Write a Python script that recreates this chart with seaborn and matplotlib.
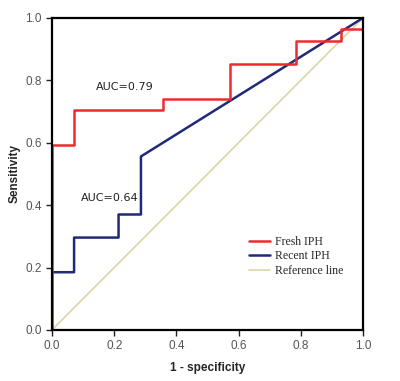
import matplotlib
matplotlib.use('Agg')
import matplotlib.pyplot as plt
import pandas as pd
import seaborn as sns

# ROC vertices (1 - specificity, sensitivity)
fresh_fpr = [0.0, 0.0, 0.071, 0.071, 0.357, 0.357, 0.571, 0.571, 0.786, 0.786, 0.929, 0.929, 1.0, 1.0]
fresh_tpr = [0.0, 0.593, 0.593, 0.704, 0.704, 0.741, 0.741, 0.852, 0.852, 0.926, 0.926, 0.963, 0.963, 1.0]
recent_fpr = [0.0, 0.0, 0.071, 0.071, 0.214, 0.214, 0.286, 0.286, 1.0]
recent_tpr = [0.0, 0.185, 0.185, 0.296, 0.296, 0.370, 0.370, 0.556, 1.0]
ref_fpr = [0.0, 1.0]
ref_tpr = [0.0, 1.0]
auc_labels = ['AUC=0.79', 'AUC=0.64']
ticks = [0.0, 0.2, 0.4, 0.6, 0.8, 1.0]

sns.set_style('white')
plt.rcParams['font.family'] = ['Liberation Sans', 'DejaVu Sans']

fig = plt.figure(figsize=(4.0, 3.81), dpi=100)
ax = fig.add_axes([0.13, 0.134, 0.7775, 0.819])

df = pd.concat([
    pd.DataFrame({'x': fresh_fpr, 'y': fresh_tpr, 'curve': 'Fresh IPH'}),
    pd.DataFrame({'x': recent_fpr, 'y': recent_tpr, 'curve': 'Recent IPH'}),
    pd.DataFrame({'x': ref_fpr, 'y': ref_tpr, 'curve': 'Reference line'}),
])
palette = {'Fresh IPH': '#ee2a2e', 'Recent IPH': '#1f2a78', 'Reference line': '#dcd6a4'}
widths = {'Fresh IPH': 1.8, 'Recent IPH': 1.8, 'Reference line': 1.2}

for name in ['Reference line', 'Recent IPH', 'Fresh IPH']:
    sub = df[df['curve'] == name]
    sns.lineplot(data=sub, x='x', y='y', sort=False, estimator=None,
                 color=palette[name], linewidth=widths[name], ax=ax, label=name)

ax.text(0.141, 0.779, auc_labels[0], fontsize=8, family='DejaVu Sans', va='center', color='#222222')
ax.text(0.093, 0.423, auc_labels[1], fontsize=8, family='DejaVu Sans', va='center', color='#222222')

ax.set_xlim(0, 1)
ax.set_ylim(0, 1)
ax.set_xticks(ticks)
ax.set_yticks(ticks)
ax.set_xticklabels([f'{t:.1f}' for t in ticks])
ax.set_yticklabels([f'{t:.1f}' for t in ticks])
ax.tick_params(direction='out', length=4, width=1, colors='#222222', labelcolor='#555555', labelsize=8.5,
               bottom=True, left=True)
for s in ax.spines.values():
    s.set_color('black')
    s.set_linewidth(1.6)

ax.set_xlabel('1 - specificity', fontsize=8.5, fontweight='bold', labelpad=7)
ax.set_ylabel('Sensitivity', fontsize=8.5, fontweight='bold', labelpad=3)

handles, labels = ax.get_legend_handles_labels()
order = [labels.index(n) for n in ['Fresh IPH', 'Recent IPH', 'Reference line']]
ax.legend([handles[i] for i in order], [labels[i] for i in order], loc='upper left',
          bbox_to_anchor=(0.6, 0.335), frameon=False, prop={'family': 'Liberation Serif', 'size': 8.5},
          handlelength=1.8, handletextpad=0.4, labelspacing=0.2)

fig.savefig('out.png', dpi=100)
